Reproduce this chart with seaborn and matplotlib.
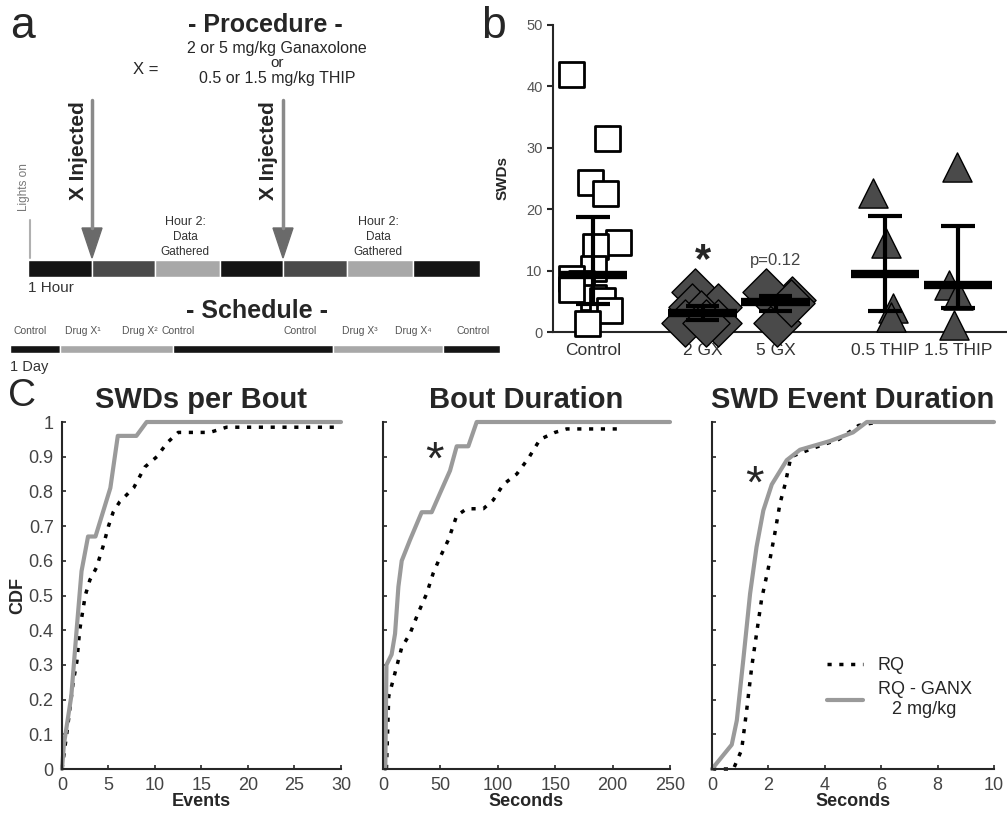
import numpy as np
import pandas as pd
import matplotlib
matplotlib.use("Agg")
import matplotlib.pyplot as plt
import seaborn as sns

# ---- panel b: SWD counts per animal ----
groups = ["Control", "2 GX", "5 GX", "0.5 THIP", "1.5 THIP"]
control_swds = [42, 31.6, 24.5, 22.6, 14.6, 14.0, 10.4, 8.8, 8.0, 5.7, 5.2, 3.6, 1.5, 7.0]
gx2_swds = [6.5, 4.1, 4.1, 3.0, 1.5, 1.5, 1.5]
gx5_swds = [5.2, 6.5, 1.5, 4.7]
thip05_swds = [22.6, 14.5, 3.9, 2.5]
thip15_swds = [26.9, 7.7, 6.0, 1.2]
center_swds = [9.3, 3.1, 4.9, 9.4, 7.7]
upper_swds = [18.8, 4.2, 5.8, 18.9, 17.3]
lower_swds = [4.5, 2.0, 3.5, 3.4, 3.9]

# ---- panel c: CDF curves ----
swds_rq_x = [0, 0.6, 1.2, 1.6, 1.9, 2.5, 3.0, 3.7, 4.4, 5.0, 5.5, 6.2, 7.7, 8.9, 10.2, 11.3, 12.5, 15.9, 17.7, 30]
swds_rq_y = [0, 0.12, 0.25, 0.31, 0.40, 0.50, 0.545, 0.58, 0.64, 0.70, 0.74, 0.77, 0.81, 0.87, 0.90, 0.94, 0.97, 0.97, 0.985, 0.985]
swds_gx_x = [0, 0.2, 1.0, 1.6, 2.1, 2.8, 3.6, 5.2, 6.0, 8.0, 9.1, 30]
swds_gx_y = [0, 0.07, 0.21, 0.41, 0.57, 0.67, 0.67, 0.81, 0.96, 0.96, 1.0, 1.0]

bout_rq_x = [3, 5, 7.5, 11.9, 16.3, 23.5, 30.7, 38, 43.8, 49.7, 56.9, 64.2, 72.9, 87.4, 96, 104.8, 116.5, 126.6, 136.8, 149.8, 160, 206.4]
bout_rq_y = [0, 0.21, 0.24, 0.295, 0.35, 0.39, 0.45, 0.505, 0.565, 0.61, 0.66, 0.73, 0.75, 0.75, 0.775, 0.82, 0.85, 0.895, 0.95, 0.97, 0.98, 0.98]
bout_gx_x = [2, 3, 7.5, 10.5, 13.4, 16.3, 23.5, 33.7, 42.4, 49.7, 58.4, 64.2, 74.3, 81.6, 250]
bout_gx_y = [0, 0.30, 0.33, 0.39, 0.525, 0.60, 0.66, 0.74, 0.74, 0.795, 0.86, 0.93, 0.93, 1.0, 1.0]

event_rq_x = [0, 0.76, 1.05, 1.23, 1.41, 1.58, 1.76, 2.0, 2.23, 2.41, 2.59, 2.8, 3.6, 4.5, 5.2, 5.9, 10]
event_rq_y = [0, 0, 0.055, 0.17, 0.295, 0.39, 0.49, 0.58, 0.68, 0.765, 0.82, 0.90, 0.925, 0.95, 0.99, 1.0, 1.0]
event_gx_x = [0, 0.7, 0.88, 1.11, 1.35, 1.58, 1.82, 2.12, 2.65, 3.12, 4.18, 5.0, 5.49, 10]
event_gx_y = [0, 0.07, 0.14, 0.315, 0.505, 0.64, 0.745, 0.82, 0.89, 0.92, 0.945, 0.97, 1.0, 1.0]

sns.set_style("white")
plt.rcParams["font.family"] = ["Liberation Sans", "DejaVu Sans"]
plt.rcParams["axes.linewidth"] = 1.5

W, H = 1007, 822
fig = plt.figure(figsize=(W / 100, H / 100), dpi=100)

# ---------------- panel a: schematic, drawn in pixel space ----------------
ax0 = fig.add_axes([0, 0, 1, 1])
ax0.set_xlim(0, W)
ax0.set_ylim(H, 0)
ax0.axis("off")

ax0.text(23, 26, "a", fontsize=32, ha="center", va="center")
ax0.text(494, 26, "b", fontsize=32, ha="center", va="center")
ax0.text(22, 396, "C", fontsize=28, ha="center", va="center")

ax0.text(265, 25, "- Procedure -", fontsize=18, fontweight="bold", ha="center", va="center")
ax0.text(146, 70, "X =", fontsize=12, ha="center", va="center")
ax0.text(277, 49, "2 or 5 mg/kg Ganaxolone", fontsize=11.5, ha="center", va="center")
ax0.text(277, 63, "or", fontsize=11, ha="center", va="center")
ax0.text(277, 79, "0.5 or 1.5 mg/kg THIP", fontsize=11.5, ha="center", va="center")

# hour timeline
hour_edges = [28, 92, 155, 220, 283, 347, 413, 480]
hour_cols = ["#151515", "#4a4a4a", "#a8a8a8", "#151515", "#4a4a4a", "#a8a8a8", "#151515"]
ax0.broken_barh([(a, b - a) for a, b in zip(hour_edges[:-1], hour_edges[1:])], (260, 17),
                facecolors=hour_cols)
for xi in [92, 283]:
    ax0.plot([xi, xi], [100, 228], color="#8a8a8a", lw=2.5)
    ax0.fill([xi - 10, xi + 10, xi], [228, 228, 258], color="#6a6a6a")
    ax0.text(xi - 14, 151, "X Injected", fontsize=15, fontweight="bold", rotation=90,
             ha="center", va="center")
ax0.plot([30, 30], [220, 258], color="#b0b0b0", lw=1.5)
ax0.text(24, 187, "Lights on", fontsize=8.5, color="#777777", rotation=90, ha="center", va="center")
for xc in [185, 378]:
    ax0.text(xc, 222, "Hour 2:", fontsize=9, ha="center", va="center", color="#333333")
    ax0.text(xc, 237, "Data", fontsize=8.5, ha="center", va="center", color="#333333")
    ax0.text(xc, 252, "Gathered", fontsize=8.5, ha="center", va="center", color="#333333")
ax0.text(28, 288, "1 Hour", fontsize=11, ha="left", va="center", color="#333333")

# schedule
ax0.text(257, 311, "- Schedule -", fontsize=18, fontweight="bold", ha="center", va="center")
day_edges = [10, 60, 173, 333, 443, 500]
day_cols = ["#151515", "#a8a8a8", "#151515", "#a8a8a8", "#151515"]
ax0.broken_barh([(a, b - a) for a, b in zip(day_edges[:-1], day_edges[1:])], (345, 8),
                facecolors=day_cols)
sched_labels = [(30, "Control"), (83, "Drug X¹"), (140, "Drug X²"), (178, "Control"),
                (300, "Control"), (360, "Drug X³"), (413, "Drug X⁴"), (473, "Control")]
for xl, lab in sched_labels:
    ax0.text(xl, 331, lab, fontsize=7.5, ha="center", va="center", color="#555555")
ax0.text(10, 367, "1 Day", fontsize=10.5, ha="left", va="center", color="#333333")

# ---------------- panel b ----------------
pos = {"Control": 1.0, "2 GX": 2.5, "5 GX": 3.5, "0.5 THIP": 5.0, "1.5 THIP": 6.0}
df = pd.DataFrame({
    "group": ["Control"] * len(control_swds) + ["2 GX"] * len(gx2_swds) + ["5 GX"] * len(gx5_swds)
    + ["0.5 THIP"] * len(thip05_swds) + ["1.5 THIP"] * len(thip15_swds),
    "swds": control_swds + gx2_swds + gx5_swds + thip05_swds + thip15_swds,
})
df["pos"] = df["group"].map(pos)

axb = fig.add_axes([553 / W, 1 - 332 / H, (W - 553) / W, 307 / H])
axb.patch.set_alpha(0)
np.random.seed(7)
sns.stripplot(data=df[df.group == "Control"], x="pos", y="swds", native_scale=True, orient="x",
              marker="s", size=18, color="white", edgecolor="black", linewidth=2,
              jitter=0.35, ax=axb, clip_on=False)
sns.stripplot(data=df[df.group.isin(["2 GX", "5 GX"])], x="pos", y="swds", native_scale=True,
              orient="x", marker="D", size=24, color="#4a4a4a", edgecolor="black", linewidth=1,
              jitter=0.25, ax=axb, clip_on=False)
sns.stripplot(data=df[df.group.isin(["0.5 THIP", "1.5 THIP"])], x="pos", y="swds",
              native_scale=True, orient="x", marker="^", size=21, color="#4a4a4a",
              edgecolor="black", linewidth=1, jitter=0.22, ax=axb, clip_on=False)
for g, c, lo, hi in zip(groups, center_swds, lower_swds, upper_swds):
    p = pos[g]
    axb.vlines(p, lo, hi, color="black", lw=3, zorder=5)
    axb.hlines([lo, hi], p - 0.23, p + 0.23, color="black", lw=3, zorder=5)
    axb.hlines(c, p - 0.47, p + 0.47, color="black", lw=6, zorder=5)
axb.text(2.5, 12.3, "*", fontsize=30, fontweight="bold", ha="center", va="center_baseline")
axb.text(3.5, 11.6, "p=0.12", fontsize=12, ha="center", va="center", color="#444444")
axb.set_xlim(0.45, 6.67)
axb.set_ylim(0, 50)
axb.set_xticks([pos[g] for g in groups])
axb.set_xticklabels(groups, fontsize=12.5, color="#333333")
axb.set_yticks(range(0, 51, 10))
axb.set_yticklabels([str(v) for v in range(0, 51, 10)], fontsize=10.5, color="#555555")
axb.tick_params(axis="y", direction="out", length=4, width=1.5, left=True)
axb.tick_params(axis="x", length=0, pad=8)
axb.set_xlabel("")
axb.set_ylabel("SWDs", fontsize=11, fontweight="bold", labelpad=12)
sns.despine(ax=axb)

# ---------------- panel c ----------------
specs = [
    (62, 279, "SWDs per Bout", "Events", 30, range(0, 31, 5), swds_rq_x, swds_rq_y, swds_gx_x, swds_gx_y),
    (383, 287, "Bout Duration", "Seconds", 250, range(0, 251, 50), bout_rq_x, bout_rq_y, bout_gx_x, bout_gx_y),
    (712, 282, "SWD Event Duration", "Seconds", 10, range(0, 11, 2), event_rq_x, event_rq_y, event_gx_x, event_gx_y),
]
axes_c = []
for i, (left, width, title, xlab, xmax, xt, rx, ry, gxx, gxy) in enumerate(specs):
    ax = fig.add_axes([left / W, 1 - 769 / H, width / W, 347 / H])
    ax.patch.set_alpha(0)
    sns.lineplot(x=rx, y=ry, ax=ax, color="black", lw=2.5, linestyle=(0, (1.2, 2.2)),
                 estimator=None, sort=False, label="RQ", clip_on=False)
    sns.lineplot(x=gxx, y=gxy, ax=ax, color="#9a9a9a", lw=3, estimator=None, sort=False,
                 label="RQ - GANX\n2 mg/kg", clip_on=False)
    ax.set_xlim(0, xmax)
    ax.set_ylim(0, 1)
    ax.set_xticks(list(xt))
    ax.set_xticklabels([str(v) for v in xt], fontsize=13, color="#444444")
    ax.set_yticks(np.round(np.arange(0, 1.01, 0.1), 1))
    if i == 0:
        ax.set_yticklabels(["0"] + [f"{v:.1f}" for v in np.arange(0.1, 0.95, 0.1)] + ["1"],
                           fontsize=13, color="#444444")
        ax.set_ylabel("CDF", fontsize=13, fontweight="bold", labelpad=2)
    else:
        ax.set_yticklabels([])
    ax.tick_params(direction="in", length=3, width=1.2, left=True, bottom=True, pad=6)
    ax.set_xlabel(xlab, fontsize=13, fontweight="bold", labelpad=-1)
    ax.set_title(title, fontsize=21, fontweight="bold", pad=10)
    sns.despine(ax=ax)
    if i < 2:
        ax.get_legend().remove()
    axes_c.append(ax)

axes_c[1].text(45, 0.90, "*", fontsize=34, ha="center", va="center_baseline")
axes_c[2].text(1.5, 0.83, "*", fontsize=34, ha="center", va="center_baseline")
leg = axes_c[2].legend(frameon=False, loc="upper left", bbox_to_anchor=(0.35, 0.37),
                       fontsize=13, handlelength=2.0, labelspacing=0.4)
for t in leg.get_texts():
    t.set_multialignment("center")

fig.savefig("out.png", dpi=100)
